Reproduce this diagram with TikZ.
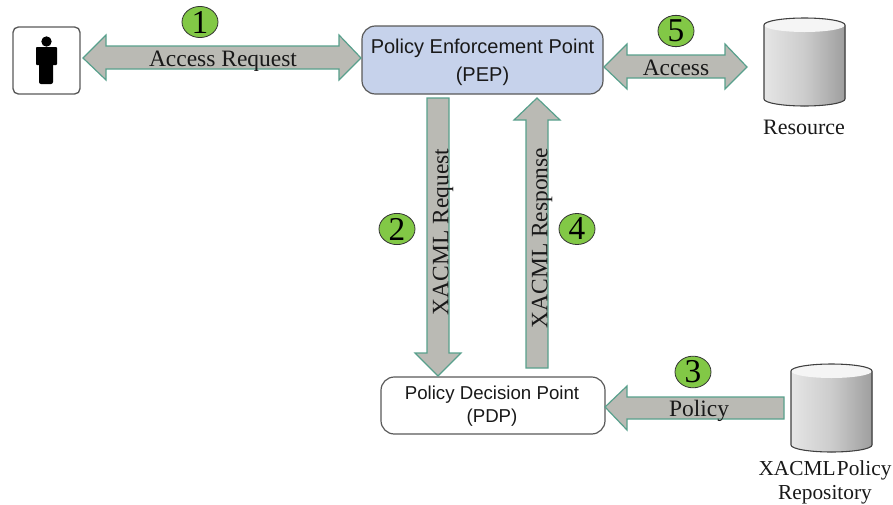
\documentclass[tikz,border=0pt]{standalone}
\usepackage{fontspec}
\setmainfont{Liberation Serif}
\newfontfamily\boxfont{Liberation Sans}
\usetikzlibrary{shapes.geometric}
\definecolor{arrowfill}{RGB}{186,186,180}
\definecolor{arrowline}{RGB}{88,160,140}
\definecolor{ovalfill}{RGB}{130,200,70}
\definecolor{pepfill}{RGB}{198,210,235}
\tikzset{
  x=0.75pt,y=-0.75pt,
  blockarrow/.style={draw=arrowline,fill=arrowfill,line width=0.9pt,line join=miter},
  arrowlabel/.style={inner sep=0pt,font=\fontsize{17.6}{20}\selectfont,text=black!90},
  sidelabel/.style={inner sep=0pt,font=\fontsize{16}{18}\selectfont,align=center,text=black!90},
  numoval/.style={draw=black!80,fill=ovalfill,ellipse,line width=0.6pt,minimum width=27pt,minimum height=20.5pt,inner sep=0pt,font=\fontsize{25}{25}\selectfont},
  procbox/.style={draw=black!65,rounded corners=10pt,line width=0.9pt,align=center,inner sep=0pt,text=black!90},
}
\newcommand{\cyl}[2]{% left x, top y
  \fill[left color=black!10,right color=black!38,middle color=black!20]
    (#1,#2+7) arc[x radius=40.5,y radius=7,start angle=180,end angle=360]
    -- (#1+81,#2+81) arc[x radius=40.5,y radius=7,start angle=0,end angle=180] -- cycle;
  \fill[black!4] (#1+40.5,#2+7) ellipse[x radius=40.5,y radius=7];
  \draw[black!75,line width=0.8pt]
    (#1,#2+7) arc[x radius=40.5,y radius=7,start angle=180,end angle=360]
    -- (#1+81,#2+81) arc[x radius=40.5,y radius=7,start angle=0,end angle=180] -- cycle;
}
\begin{document}
\begin{tikzpicture}
\useasboundingbox (0,0) rectangle (893,504);
% boxes
\node[procbox,minimum width=50.25pt,minimum height=50.25pt,rounded corners=4pt,line width=1pt] (user) at (46.5,60.5) {};
\fill[black] (46.5,41.5) circle[radius=5.2];
\fill[black,rounded corners=0.7pt] (36,47) rectangle (57,65);
\fill[black,rounded corners=1.5pt] (39,62) rectangle (53,84);
\node[procbox,fill=pepfill,minimum width=180.75pt,minimum height=51pt] (pep) at (482.5,60) {};
\node[inner sep=0pt,align=center,text=black!90,font=\boxfont\fontsize{15}{21}\selectfont] (peptext) at (482.5,62) {Policy Enforcement Point\\(PEP)};
\node[procbox,fill=white,minimum width=168pt,minimum height=42.75pt] (pdp) at (493,405.5) {};
\node[inner sep=0pt,align=center,text=black!90,font=\boxfont\fontsize{14}{17.5}\selectfont] (pdptext) at (492,406) {Policy Decision Point\\(PDP)};
% cylinders
\cyl{764}{18}
\cyl{791}{364}
\node[sidelabel,font=\fontsize{16.5}{18}\selectfont] (reslabel) at (804,127) {Resource};
\node[sidelabel] (repolabel) at (825,482) {XACML\kern1pt Policy\\Repository};
% block arrows
\draw[blockarrow] (83,58) -- (106,35) -- (106,46) -- (339,46) -- (339,35) -- (361,58) -- (339,80) -- (339,69) -- (106,69) -- (106,80) -- cycle;
\draw[blockarrow] (604,67) -- (627,44) -- (627,55) -- (725,55) -- (725,44) -- (747,67) -- (725,89) -- (725,78) -- (627,78) -- (627,89) -- cycle;
\draw[blockarrow] (605,407) -- (627,386) -- (627,397) -- (784,397) -- (784,419) -- (627,419) -- (627,430) -- cycle;
\draw[blockarrow] (438,376) -- (415,353) -- (427,353) -- (427,98) -- (449,98) -- (449,353) -- (461,353) -- cycle;
\draw[blockarrow] (537,98) -- (514,120) -- (526,120) -- (526,368) -- (548,368) -- (548,120) -- (560,120) -- cycle;
% arrow labels
\node[arrowlabel] (l1) at (223,61) {Access Request};
\node[arrowlabel] (l5) at (676,68) {Access};
\node[arrowlabel] (l3) at (699,411) {Policy};
\node[arrowlabel,rotate=90] (l2) at (443,232) {XACML Request};
\node[arrowlabel,rotate=90] (l4) at (542,238) {XACML Response};
% number ovals
\node[numoval] (n1) at (200,22) {1};
\node[numoval] (n5) at (676,31) {5};
\node[numoval] (n3) at (693,372) {3};
\node[numoval] (n2) at (397,229) {2};
\node[numoval] (n4) at (577,229) {4};
\end{tikzpicture}
\end{document}
